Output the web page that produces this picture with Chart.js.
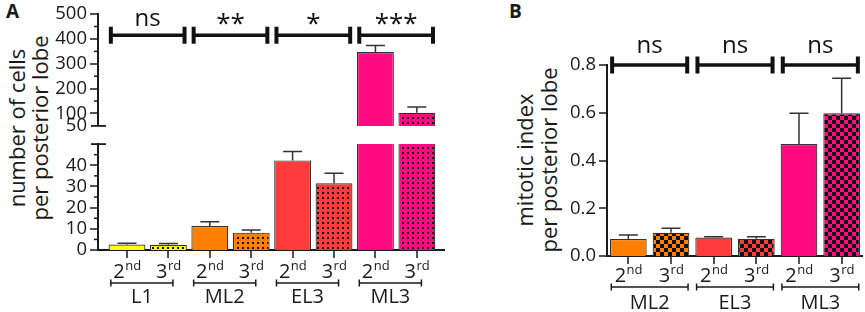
<!DOCTYPE html>
<html>
<head>
<meta charset="utf-8">
<script src="https://cdn.jsdelivr.net/npm/chart.js@4.4.1/dist/chart.umd.min.js"></script>
<style>
  html, body { margin: 0; padding: 0; background: #fff; }
  body { width: 865px; height: 312px; position: relative; overflow: hidden; font-family: "Open Sans", sans-serif; color: #1a1a1a; }
  canvas { position: absolute; }
  .panel { position: absolute; font-weight: 700; font-size: 19px; line-height: 19px; }
  .ytitle { position: absolute; width: 260px; font-size: 22px; text-align: center; white-space: nowrap; transform: rotate(-90deg); }
</style>
</head>
<body>
<div class="panel" style="left:6px; top:2px">A</div>
<div class="panel" style="left:509px; top:2px">B</div>
<div class="ytitle" style="left:-102px; top:105px; height:46px; line-height:23px">number of cells<br>per posterior lobe</div>
<div class="ytitle" style="left:406px; top:136px; height:48px; line-height:24px">mitotic index<br>per posterior lobe</div>
<canvas id="aTop" width="450" height="140" style="left:0; top:0"></canvas>
<canvas id="aLow" width="450" height="182" style="left:0; top:130px"></canvas>
<canvas id="bChart" width="305" height="312" style="left:560px; top:0"></canvas>
<script>
// ---- data ----
const stagesA = ['L1', 'ML2', 'EL3', 'ML3'];
const cells2nd = [2.6, 11.3, 42.3, 347];
const cells2ndErr = [0.6, 2.0, 4.2, 27];
const cells3rd = [2.5, 8.2, 31.5, 103];
const cells3rdErr = [0.6, 1.2, 4.7, 23];
const sigA = ['ns', '**', '*', '***'];

const upperTicks = [50, 100, 150, 200, 250, 300, 350, 400, 450, 500];
const upperLabels = [50, 100, 200, 300, 400, 500];
const lowerTicks = [0, 5, 10, 15, 20, 25, 30, 35, 40, 45];
const lowerLabels = [0, 10, 20, 30, 40];

const stagesB = ['ML2', 'EL3', 'ML3'];
const mitotic2nd = [0.071, 0.077, 0.469];
const mitotic2ndErr = [0.017, 0.004, 0.129];
const mitotic3rd = [0.097, 0.072, 0.598];
const mitotic3rdErr = [0.019, 0.009, 0.147];
const sigB = ['ns', 'ns', 'ns'];
const bTicks = [0, 0.2, 0.4, 0.6, 0.8];

const instars = [['2', 'nd'], ['3', 'rd']];

// ---- styles ----
const ink = '#1a1a1a';
const stageColors = { L1: '#ffff10', ML2: '#ff7f00', EL3: '#ff3b3b', ML3: '#ff0a80' };
const FONT = '"Open Sans", sans-serif';
Chart.defaults.font.family = FONT;
Chart.defaults.color = ink;

function dots(color) {
  const c = document.createElement('canvas');
  c.width = 5; c.height = 5;
  const g = c.getContext('2d');
  g.fillStyle = color; g.fillRect(0, 0, 5, 5);
  g.fillStyle = '#111'; g.fillRect(2, 2, 2, 2);
  return g.createPattern(c, 'repeat');
}
function checks(color) {
  const c = document.createElement('canvas');
  c.width = 8; c.height = 8;
  const g = c.getContext('2d');
  g.fillStyle = color; g.fillRect(0, 0, 8, 8);
  g.fillStyle = '#111'; g.fillRect(0, 0, 4, 4); g.fillRect(4, 4, 4, 4);
  return g.createPattern(c, 'repeat');
}

// interleave 2nd / 3rd instar values: stage i -> x = 2i+1, 2i+2
function pairPoints(v2, v3) {
  const pts = [];
  v2.forEach((v, i) => { pts.push({ x: 2 * i + 1, y: v }); pts.push({ x: 2 * i + 2, y: v3[i] }); });
  return pts;
}
function pairErr(e2, e3) {
  return e2.flatMap((e, i) => [e, e3[i]]);
}

// ---- drawing helpers ----
function errorBars(points, errs) {
  return {
    id: 'errorBars',
    afterDatasetsDraw(chart) {
      const { ctx, scales: { x, y } } = chart;
      ctx.save();
      ctx.strokeStyle = '#333';
      ctx.lineWidth = 1.5;
      points.forEach((p, i) => {
        if (p.y == null || p.y > y.max || p.y < y.min) return;
        const px = x.getPixelForValue(p.x);
        const top = y.getPixelForValue(p.y);
        const end = y.getPixelForValue(p.y + errs[i]);
        ctx.beginPath();
        ctx.moveTo(px, top); ctx.lineTo(px, end);
        ctx.moveTo(px - 9.5, end); ctx.lineTo(px + 9.5, end);
        ctx.stroke();
      });
      ctx.restore();
    }
  };
}

function minorTicks(values, len) {
  return {
    id: 'minorTicks',
    afterDraw(chart) {
      const { ctx, chartArea, scales: { y } } = chart;
      ctx.save();
      ctx.strokeStyle = ink; ctx.lineWidth = 1.5;
      values.forEach(v => {
        const py = y.getPixelForValue(v);
        ctx.beginPath(); ctx.moveTo(chartArea.left - len, py); ctx.lineTo(chartArea.left, py); ctx.stroke();
      });
      ctx.restore();
    }
  };
}

function breakMark(edge) {
  return {
    id: 'breakMark',
    afterDraw(chart) {
      const { ctx, chartArea } = chart;
      const py = edge === 'bottom' ? chartArea.bottom : chartArea.top;
      ctx.save();
      ctx.strokeStyle = ink; ctx.lineWidth = 1.8;
      ctx.beginPath(); ctx.moveTo(chartArea.left - 7, py); ctx.lineTo(chartArea.left + 8, py); ctx.stroke();
      ctx.restore();
    }
  };
}

function sigBrackets(labels, value, half, gapNs, gapStar, size) {
  return {
    id: 'sigBrackets',
    afterDraw(chart) {
      const { ctx, scales: { x, y } } = chart;
      const py = y.getPixelForValue(value);
      ctx.save();
      ctx.strokeStyle = '#111'; ctx.fillStyle = '#111';
      labels.forEach((lab, i) => {
        const x1 = x.getPixelForValue(2 * i + 1 - half);
        const x2 = x.getPixelForValue(2 * i + 2 + half);
        ctx.lineWidth = 3.4;
        ctx.beginPath(); ctx.moveTo(x1, py); ctx.lineTo(x2, py); ctx.stroke();
        ctx.lineWidth = 4;
        ctx.beginPath();
        ctx.moveTo(x1, py - 8.5); ctx.lineTo(x1, py + 8.5);
        ctx.moveTo(x2, py - 8.5); ctx.lineTo(x2, py + 8.5);
        ctx.stroke();
        const star = lab.includes('*');
        ctx.font = (star ? size + 2 : size) + 'px ' + FONT;
        ctx.textAlign = 'center'; ctx.textBaseline = 'alphabetic';
        ctx.fillText(lab, (x1 + x2) / 2, py - (star ? gapStar : gapNs));
      });
      ctx.restore();
    }
  };
}

function xLabels(stages, padL, padR, tickBase, bracketOff, groupBase) {
  return {
    id: 'xLabels',
    afterDraw(chart) {
      const { ctx, chartArea, scales: { x } } = chart;
      const bottom = chartArea.bottom;
      ctx.save();
      ctx.fillStyle = ink; ctx.strokeStyle = ink;
      ctx.textBaseline = 'alphabetic';
      stages.forEach((st, i) => {
        instars.forEach(([main, sup], k) => {
          const cx = x.getPixelForValue(2 * i + 1 + k);
          ctx.font = '20px ' + FONT;
          const w1 = ctx.measureText(main).width;
          ctx.font = '13px ' + FONT;
          const w2 = ctx.measureText(sup).width;
          const x0 = cx - (w1 + w2) / 2;
          ctx.textAlign = 'left';
          ctx.font = '20px ' + FONT;
          ctx.fillText(main, x0, bottom + tickBase);
          ctx.font = '13px ' + FONT;
          ctx.fillText(sup, x0 + w1 + 0.5, bottom + tickBase - 8);
        });
        const x1 = x.getPixelForValue(2 * i + 1 - padL);
        const x2 = x.getPixelForValue(2 * i + 2 + padR);
        const by = bottom + bracketOff;
        ctx.lineWidth = 1.5;
        ctx.beginPath();
        ctx.moveTo(x1, by); ctx.lineTo(x2, by);
        ctx.moveTo(x1, by - 3.5); ctx.lineTo(x1, by + 3.5);
        ctx.moveTo(x2, by - 3.5); ctx.lineTo(x2, by + 3.5);
        ctx.stroke();
        ctx.font = '20px ' + FONT;
        ctx.textAlign = 'center';
        ctx.fillText(st, (x1 + x2) / 2, bottom + groupBase);
      });
      ctx.restore();
    }
  };
}

// ---- panel A ----
const ptsA = pairPoints(cells2nd, cells3rd);
const errA = pairErr(cells2ndErr, cells3rdErr);
const fillsA = stagesA.flatMap(s => [stageColors[s], dots(stageColors[s])]);
const xA = { type: 'linear', min: 0.3, max: 8.68, offset: false };

function barSet(points, fills, barPct) {
  return {
    data: points, backgroundColor: fills, borderColor: '#333', borderWidth: 1.2,
    borderSkipped: 'start', categoryPercentage: 1, barPercentage: barPct, clip: 0
  };
}
function yAxis(min, max, ticks, labels, width, fmt, hideTick) {
  return {
    min, max,
    afterFit: s => { s.width = width; },
    afterBuildTicks: s => { s.ticks = ticks.map(v => ({ value: v })); },
    ticks: { autoSkip: false, padding: 3, font: { size: 18.5 }, color: ink,
      callback: v => labels.includes(v) ? fmt(v) : '' },
    grid: { drawOnChartArea: false, tickLength: 8, tickWidth: 1.5, lineWidth: 0,
      tickColor: c => (labels.includes(c.tick.value) && !hideTick.includes(c.tick.value)) ? ink : 'rgba(0,0,0,0)' },
    border: { display: true, color: ink, width: 2 }
  };
}
const baseOpts = {
  responsive: false, animation: false,
  plugins: { legend: { display: false }, tooltip: { enabled: false } }
};

new Chart(document.getElementById('aTop'), {
  type: 'bar',
  data: { datasets: [barSet(ptsA.map(p => ({ x: p.x, y: p.y > 50 ? p.y : null })), fillsA, 0.89)] },
  options: {
    ...baseOpts,
    layout: { padding: { top: 10, bottom: 12, left: 0, right: 5 } },
    scales: {
      x: { ...xA, display: false },
      y: yAxis(50, 500, upperTicks, upperLabels, 98, v => String(v), [50])
    }
  },
  plugins: [
    errorBars(ptsA, errA),
    minorTicks(upperTicks.filter(v => !upperLabels.includes(v)), 4),
    breakMark('bottom'),
    sigBrackets(sigA, 415, 0.39, 9, 3, 24)
  ]
});

new Chart(document.getElementById('aLow'), {
  type: 'bar',
  data: { datasets: [barSet(ptsA, fillsA, 0.89)] },
  options: {
    ...baseOpts,
    layout: { padding: { top: 5, bottom: 0, left: 0, right: 5 } },
    scales: {
      x: { ...xA,
        afterFit: s => { s.height = 62; },
        afterBuildTicks: s => { s.ticks = ptsA.map(p => ({ value: p.x })); },
        ticks: { display: false },
        grid: { drawOnChartArea: false, offset: false, tickLength: 8, tickWidth: 1.5, lineWidth: 0, tickColor: ink },
        border: { display: true, color: ink, width: 2 }
      },
      y: yAxis(0, 50, lowerTicks, lowerLabels, 98, v => String(v), [])
    }
  },
  plugins: [
    errorBars(ptsA, errA),
    minorTicks(lowerTicks.filter(v => !lowerLabels.includes(v)), 4),
    breakMark('top'),
    xLabels(stagesA, 0.39, 0.11, 28, 33, 53)
  ]
});

// ---- panel B ----
const ptsB = pairPoints(mitotic2nd, mitotic3rd);
const errB = pairErr(mitotic2ndErr, mitotic3rdErr);
const fillsB = stagesB.flatMap(s => [stageColors[s], checks(stageColors[s])]);

new Chart(document.getElementById('bChart'), {
  type: 'bar',
  data: { datasets: [barSet(ptsB, fillsB, 0.86)] },
  options: {
    ...baseOpts,
    layout: { padding: { top: 65, bottom: 0, left: 0, right: 2 } },
    scales: {
      x: { type: 'linear', min: 0.5, max: 6.5, offset: false,
        afterFit: s => { s.height = 56; },
        afterBuildTicks: s => { s.ticks = ptsB.map(p => ({ value: p.x })); },
        ticks: { display: false },
        grid: { drawOnChartArea: false, offset: false, tickLength: 8, tickWidth: 1.5, lineWidth: 0, tickColor: ink },
        border: { display: true, color: ink, width: 2 }
      },
      y: yAxis(0, 0.8, bTicks, bTicks, 47, v => v.toFixed(1), [])
    }
  },
  plugins: [
    errorBars(ptsB, errB),
    sigBrackets(sigB, 0.8, 0.38, 12, 12, 24),
    xLabels(stagesB, 0.4, 0.4, 26, 31, 53)
  ]
});
</script>
</body>
</html>
